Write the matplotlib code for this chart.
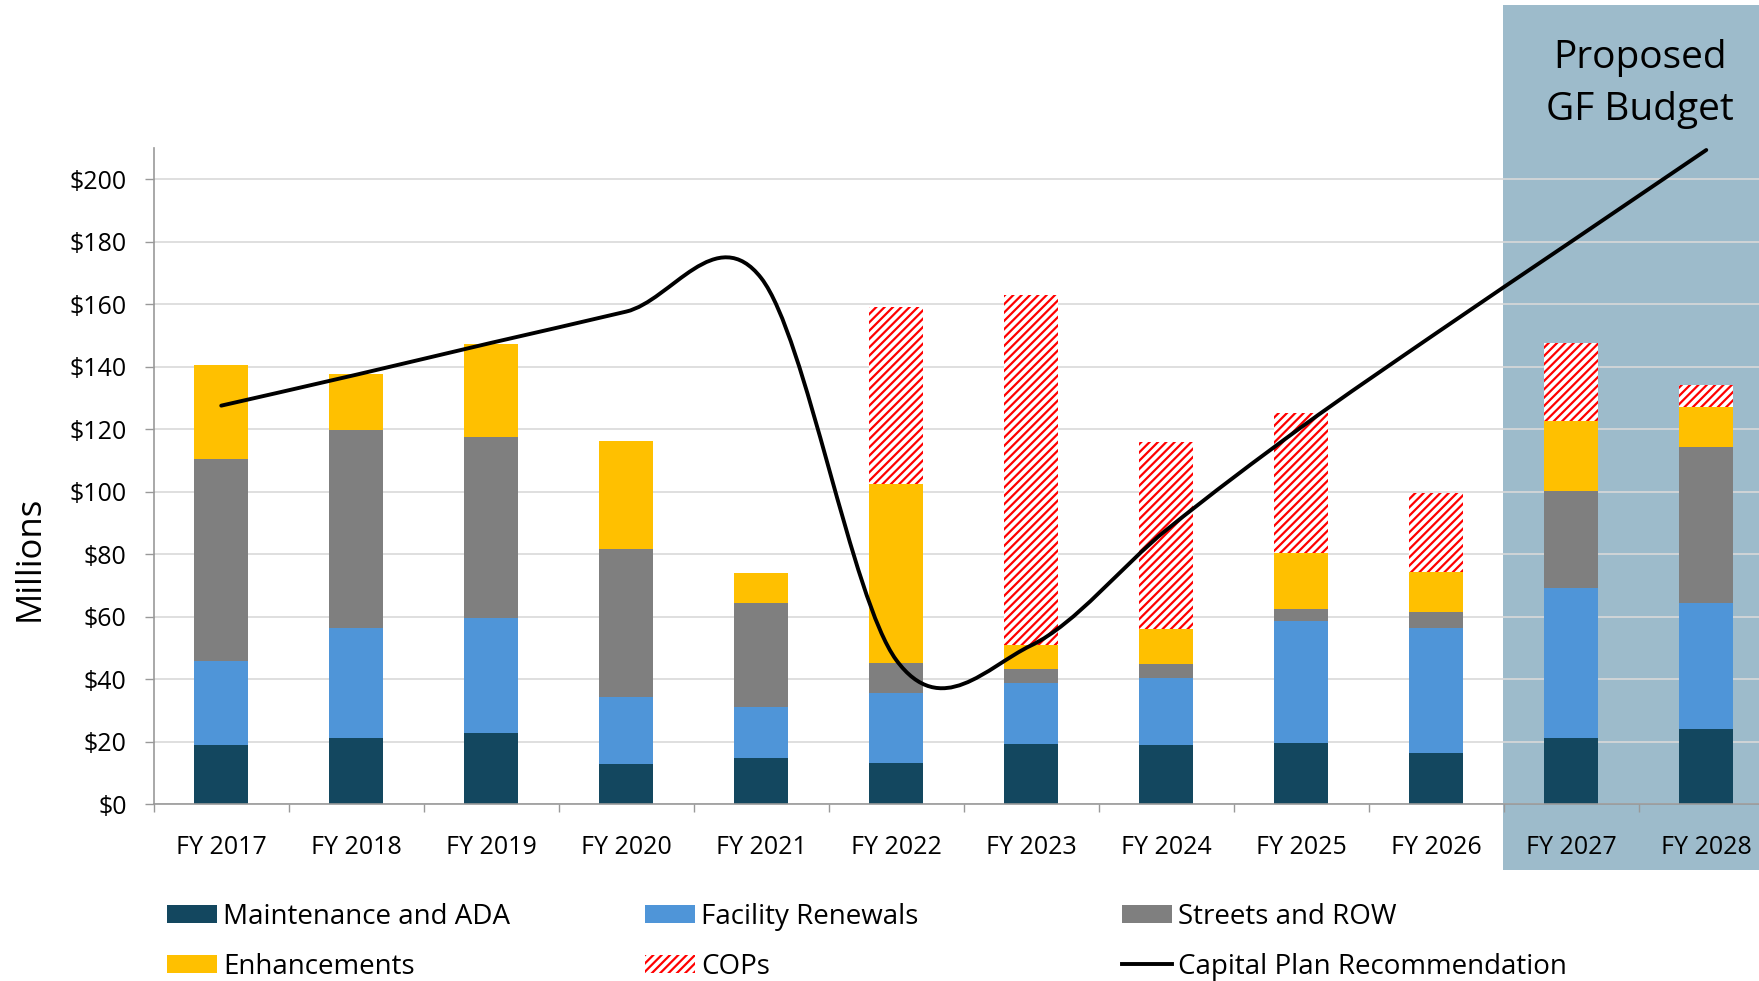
import numpy as np
import matplotlib
matplotlib.use("Agg")
import matplotlib.pyplot as plt
from matplotlib.patches import Patch, Rectangle, PathPatch
from matplotlib.lines import Line2D
from matplotlib.path import Path

plt.rcParams['font.family'] = ['Open Sans', 'DejaVu Sans']
plt.rcParams['hatch.linewidth'] = 1.6

years = ['FY 2017', 'FY 2018', 'FY 2019', 'FY 2020', 'FY 2021', 'FY 2022',
         'FY 2023', 'FY 2024', 'FY 2025', 'FY 2026', 'FY 2027', 'FY 2028']
maintenance = [19.1, 21.2, 22.9, 12.8, 14.8, 13.2, 19.4, 19.0, 19.5, 16.3, 21.3, 24.1]
facility = [26.8, 35.2, 36.8, 21.7, 16.4, 22.6, 19.6, 21.6, 39.1, 40.1, 48.1, 40.3]
streets = [64.6, 63.5, 58.0, 47.3, 33.2, 9.6, 4.2, 4.4, 4.0, 5.2, 31.0, 50.1]
enhancements = [30.1, 17.8, 29.6, 34.4, 9.8, 57.0, 7.7, 11.0, 17.8, 12.9, 22.2, 12.6]
cops = [0, 0, 0, 0, 0, 56.7, 112.1, 60.0, 44.9, 25.1, 25.0, 7.1]
capital_plan = [127.6, 137.5, 147.7, 157.7, 168.4, 46.2, 50.9, 87.8, 120.7, 150.8, 180.1, 209.4]

c_maint = '#13475F'
c_fac = '#4F95D8'
c_str = '#7F7F7F'
c_enh = '#FFC000'
c_shade = '#9DBBCB'

fig = plt.figure(figsize=(17.59, 9.81), dpi=100)

# shaded "proposed" block behind the axes
fig.add_artist(Rectangle((0.8545, 0.1131), 0.2, 0.8813, transform=fig.transFigure,
                         facecolor=c_shade, edgecolor='none', zorder=-5))

ax = fig.add_axes([0.0874, 0.18, 0.921, 0.669])
ax.set_facecolor('none')

x = np.arange(len(years))
w = 0.4
bottom = np.zeros(len(years))
for vals, col in [(maintenance, c_maint), (facility, c_fac), (streets, c_str), (enhancements, c_enh)]:
    ax.bar(x, vals, w, bottom=bottom, color=col, zorder=2)
    bottom += np.array(vals)
ax.bar(x, cops, w, bottom=bottom, facecolor='white', edgecolor='red', hatch='////',
       linewidth=0, zorder=2)

# smoothed line (Catmull-Rom style bezier through the points)
pts = np.column_stack([x, capital_plan]).astype(float)
ext = np.vstack([pts[0], pts, pts[-1]])
verts = [pts[0]]
codes = [Path.MOVETO]
for i in range(len(pts) - 1):
    p0, p1, p2, p3 = ext[i], ext[i + 1], ext[i + 2], ext[i + 3]
    verts += [p1 + (p2 - p0) / 6, p2 - (p3 - p1) / 6, p2]
    codes += [Path.CURVE4] * 3
ax.add_patch(PathPatch(Path(verts, codes), facecolor='none', edgecolor='black',
                       linewidth=2.8, zorder=4, capstyle='round'))

ax.set_xlim(-0.5, 11.5)
ax.set_ylim(0, 210)
ax.set_yticks(range(0, 201, 20))
ax.set_yticklabels([f'${v}' for v in range(0, 201, 20)])
ax.grid(axis='y', color='#D9D9D9', linewidth=1.2, zorder=0)
ax.set_axisbelow(True)

ax.set_xticks(np.arange(-0.5, 12, 1))
ax.set_xticklabels([])
ax.set_xticks(x, minor=True)
ax.set_xticklabels(years, minor=True)
ax.tick_params(axis='x', which='major', length=6, width=1, color='#999999', direction='out')
ax.tick_params(axis='x', which='minor', length=0, pad=22, labelsize=18)
ax.tick_params(axis='y', length=6.5, width=1, color='#999999', pad=13, labelsize=18)

for s in ['top', 'right']:
    ax.spines[s].set_visible(False)
for s in ['left', 'bottom']:
    ax.spines[s].set_color('#999999')
    ax.spines[s].set_linewidth(1.2)

fig.text(30 / 1759, 1 - 558 / 981, 'Millions', rotation=90, fontsize=25,
         ha='center', va='center')
fig.text(1640 / 1759, 1 - 84 / 981, 'Proposed\nGF Budget', fontsize=28,
         ha='center', va='center', linespacing=1.45)

# legend, three columns
h_maint = Patch(facecolor=c_maint)
h_fac = Patch(facecolor=c_fac)
h_str = Patch(facecolor=c_str)
h_enh = Patch(facecolor=c_enh)
h_cop = Patch(facecolor='white', edgecolor='red', hatch='////', linewidth=0)
h_line = Line2D([], [], color='black', linewidth=2.8)

cols = [([h_maint, h_enh], ['Maintenance and ADA', 'Enhancements'], 167),
        ([h_fac, h_cop], ['Facility Renewals', 'COPs'], 645),
        ([h_str, h_line], ['Streets and ROW', 'Capital Plan Recommendation'], 1122)]
for hs, ls, px in cols:
    fig.legend(hs, ls, loc='upper left', bbox_to_anchor=(px / 1759, 1 - 903 / 981),
               frameon=False, fontsize=20, borderpad=0, borderaxespad=0,
               handlelength=1.8, handleheight=0.62, handletextpad=0.22,
               labelspacing=0.78)

fig.savefig('out.png', dpi=100)
